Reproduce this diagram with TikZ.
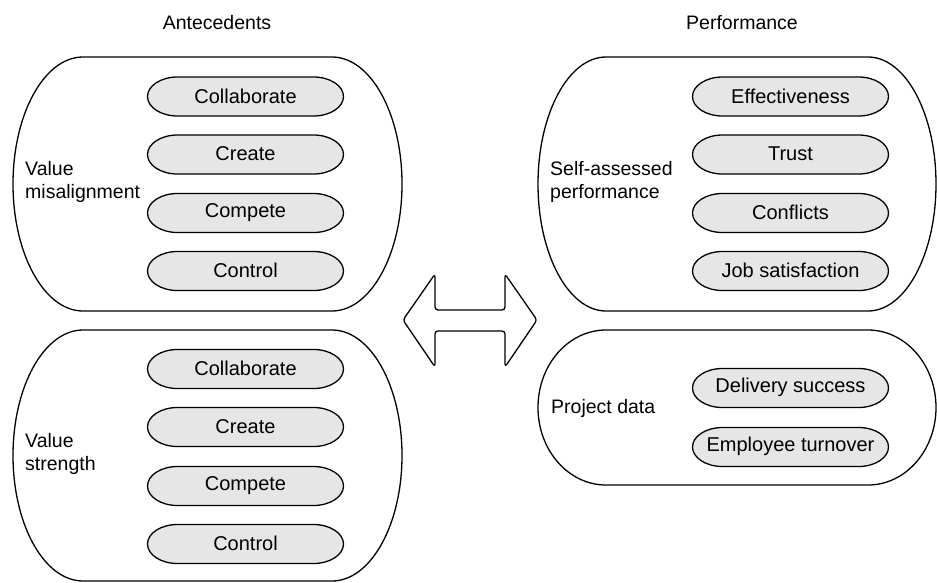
\documentclass[tikz,border=0pt]{standalone}
\usepackage{fontspec}
\setmainfont{Liberation Sans}
\definecolor{pillgray}{HTML}{E6E6E6}
\tikzset{
  every picture/.style={x=1pt,y=-1pt},
  txt/.style={font=\fontsize{19.5}{23}\selectfont, inner sep=0pt},
  pilltxt/.style={font=\fontsize{20}{23}\selectfont, inner sep=0pt},
  lbl/.style={txt, align=left, anchor=west},
  bigbox/.style={draw=black, line width=1.3pt},
  pillline/.style={draw=black, fill=pillgray, line width=1.3pt},
  arrowshape/.style={draw=black, line width=1.3pt, rounded corners=3pt, line join=round},
  pics/pill/.style={code={
    \path[pillline] (68pt,19.5pt) arc[start angle=90,end angle=-90,x radius=30pt,y radius=19.5pt]
      -- (-68pt,-19.5pt) arc[start angle=270,end angle=90,x radius=30pt,y radius=19.5pt] -- cycle;
    \node[pilltxt] (-t) at (0,-0.5) {#1};
  }}
}
\begin{document}
\begin{tikzpicture}
\useasboundingbox (0,0) rectangle (937,582);
% titles
\node[txt] (antecedents) at (217,23) {Antecedents};
\node[txt] (performance) at (742,23) {Performance};
% containers
\draw[bigbox] (83,57) -- (332,57) arc[start angle=90,end angle=-90,x radius=70pt,y radius=127pt]
  -- (83,311) arc[start angle=270,end angle=90,x radius=70pt,y radius=127pt] -- cycle;
\draw[bigbox] (83,330) -- (332,330) arc[start angle=90,end angle=-90,x radius=70pt,y radius=125.5pt]
  -- (83,581) arc[start angle=270,end angle=90,x radius=70pt,y radius=125.5pt] -- cycle;
\draw[bigbox] (606,57) -- (868,57) arc[start angle=90,end angle=-90,x radius=68pt,y radius=127pt]
  -- (606,311) arc[start angle=270,end angle=90,x radius=68pt,y radius=127pt] -- cycle;
\draw[bigbox] (606,330) -- (868,330) arc[start angle=90,end angle=-90,x radius=68pt,y radius=77.5pt]
  -- (606,485) arc[start angle=270,end angle=90,x radius=68pt,y radius=77.5pt] -- cycle;
% container labels
\node[lbl] (vm) at (25,182) {Value\\misalignment};
\node[lbl] (vs) at (25,454) {Value\\strength};
\node[lbl] (sap) at (550,182) {Self-assessed\\performance};
\node[lbl] (pd) at (551,408) {Project data};
% pills
\pic (a1) at (245.5,96.5) {pill=Collaborate};
\pic (a2) at (245.5,154.5) {pill=Create};
\pic (a3) at (245.5,213) {pill=Compete};
\pic (a4) at (245.5,271) {pill=Control};
\pic (b1) at (245.5,369) {pill=Collaborate};
\pic (b2) at (245.5,427) {pill=Create};
\pic (b3) at (245.5,486) {pill=Compete};
\pic (b4) at (245.5,544) {pill=Control};
\pic (p1) at (790.5,96.5) {pill=Effectiveness};
\pic (p2) at (790.5,154.5) {pill=Trust};
\pic (p3) at (790.5,213) {pill=Conflicts};
\pic (p4) at (790.5,271) {pill=Job satisfaction};
\pic (q1) at (790.5,388) {pill=Delivery success};
\pic (q2) at (790.5,447) {pill=Employee turnover};
% double arrow
\draw[arrowshape] (403,320) -- (435,274) -- (435,310) -- (505,310) -- (505,274) -- (537,320)
  -- (505,367) -- (505,331) -- (435,331) -- (435,367) -- cycle;
\end{tikzpicture}
\end{document}
